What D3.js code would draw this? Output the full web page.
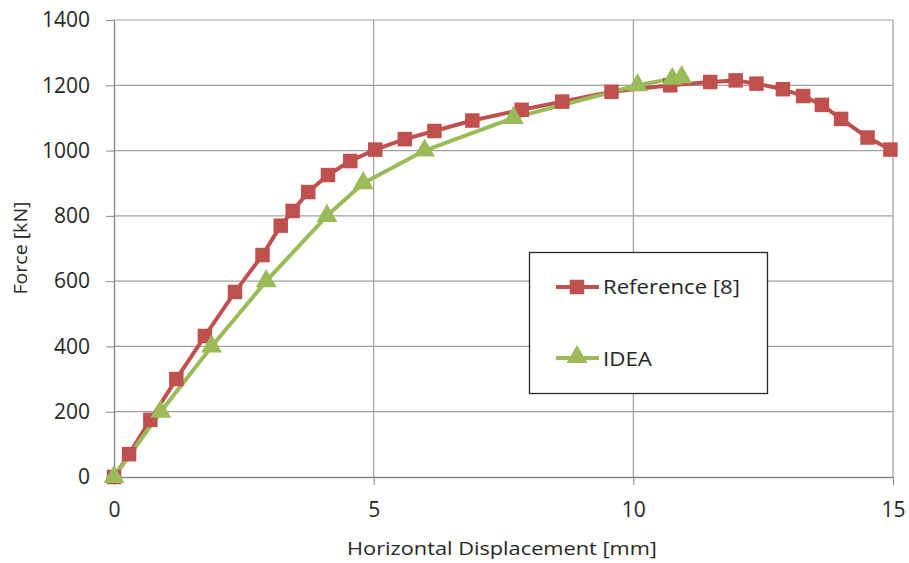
<!DOCTYPE html>
<html>
<head>
<meta charset="utf-8">
<script src="https://cdn.jsdelivr.net/npm/d3@7"></script>
<style>
  body { margin: 0; background: #fff; }
  text { font-family: "Open Sans", "Noto Sans", sans-serif; fill: #262626; }
  .axis text { font-size: 21px; fill: #262626; }
  .axis path, .axis line { stroke: #868686; }
  .grid line { stroke: #a0a0a0; stroke-width: 1.2; }
  .axislabel { font-size: 19px; }
  .legend { font-size: 20px; }
</style>
</head>
<body>
<svg id="chart" width="909" height="563"></svg>
<script>
// Reference [8] curve
const refX = [0, 0.29, 0.70, 1.20, 1.75, 2.33, 2.86, 3.21, 3.44, 3.74, 4.12, 4.55, 5.03,
              5.60, 6.17, 6.90, 7.85, 8.63, 9.58, 10.71, 11.48, 11.97, 12.37, 12.88,
              13.27, 13.63, 14.00, 14.51, 14.95];
const refY = [0, 70, 175, 300, 432, 567, 680, 770, 815, 873, 925, 968, 1003,
              1035, 1060, 1092, 1125, 1150, 1180, 1200, 1210, 1215, 1205, 1188,
              1167, 1140, 1097, 1040, 1003];
// IDEA curve
const ideaX = [0, 0.90, 1.88, 2.93, 4.10, 4.80, 5.98, 7.69, 10.08, 10.75, 10.93];
const ideaY = [0, 200, 400, 600, 800, 900, 1000, 1100, 1200, 1220, 1225];

const xTicks = [0, 5, 10, 15];
const yTicks = [0, 200, 400, 600, 800, 1000, 1200, 1400];

const red = "#c0504d", green = "#9bbb59";

const svg = d3.select("#chart");
const pLeft = 114, pRight = 893, pTop = 20, pBottom = 477;

const xScale = d3.scaleLinear().domain([0, 15]).range([pLeft, pRight]);
const yScale = d3.scaleLinear().domain([0, 1400]).range([pBottom, pTop]);

// gridlines
const grid = svg.append("g").attr("class", "grid");
grid.selectAll(".hg").data(yTicks.slice(1)).join("line").attr("class", "hg")
    .attr("x1", pLeft).attr("x2", pRight)
    .attr("y1", d => yScale(d)).attr("y2", d => yScale(d));
grid.selectAll(".vg").data(xTicks.slice(1)).join("line").attr("class", "vg")
    .attr("y1", pTop).attr("y2", pBottom)
    .attr("x1", d => xScale(d)).attr("x2", d => xScale(d));

// axes
const xAxis = d3.axisBottom(xScale).tickValues(xTicks).tickFormat(d3.format("d"))
    .tickSize(8).tickPadding(17).tickSizeOuter(0);
svg.append("g").attr("class", "axis").attr("transform", `translate(0,${pBottom})`).call(xAxis);
const yAxis = d3.axisLeft(yScale).tickValues(yTicks).tickFormat(d3.format("d"))
    .tickSize(8).tickPadding(16).tickSizeOuter(0);
svg.append("g").attr("class", "axis").attr("transform", `translate(${pLeft},0)`).call(yAxis);
svg.selectAll(".axis path").attr("stroke-width", 1.3);

svg.append("text").attr("class", "axislabel").attr("text-anchor", "middle")
    .attr("x", 502).attr("y", 555)
    .attr("textLength", 310).attr("lengthAdjust", "spacingAndGlyphs")
    .text("Horizontal Displacement [mm]");
svg.append("text").attr("class", "axislabel").attr("text-anchor", "middle")
    .attr("transform", "translate(27,248) rotate(-90)")
    .attr("textLength", 93).attr("lengthAdjust", "spacingAndGlyphs")
    .text("Force [kN]");

// series
const refData = refX.map((x, i) => ({x: x, y: refY[i]}));
const ideaData = ideaX.map((x, i) => ({x: x, y: ideaY[i]}));
const line = d3.line().x(d => xScale(d.x)).y(d => yScale(d.y));

svg.append("path").attr("d", line(refData)).attr("fill", "none")
    .attr("stroke", red).attr("stroke-width", 4).attr("stroke-linejoin", "round");
svg.append("path").attr("d", line(ideaData)).attr("fill", "none")
    .attr("stroke", green).attr("stroke-width", 4).attr("stroke-linejoin", "round");

const square = d3.symbol().type(d3.symbolSquare).size(210);
const triangle = d3.symbol().type(d3.symbolTriangle).size(190);

svg.selectAll(".ref").data(refData).join("path").attr("class", "ref")
    .attr("d", square).attr("fill", red)
    .attr("transform", d => `translate(${xScale(d.x)},${yScale(d.y)})`);
svg.selectAll(".idea").data(ideaData).join("path").attr("class", "idea")
    .attr("d", triangle).attr("fill", green)
    .attr("transform", d => `translate(${xScale(d.x)},${yScale(d.y)})`);

// legend
const lg = svg.append("g");
lg.append("rect").attr("x", 529.5).attr("y", 252.5).attr("width", 238).attr("height", 141)
    .attr("fill", "#fff").attr("stroke", "#262626").attr("stroke-width", 1.3);
lg.append("line").attr("x1", 556).attr("x2", 599).attr("y1", 287).attr("y2", 287)
    .attr("stroke", red).attr("stroke-width", 4);
lg.append("path").attr("d", square).attr("fill", red).attr("transform", "translate(577,287)");
lg.append("text").attr("class", "legend").attr("x", 603).attr("y", 294)
    .attr("textLength", 137).attr("lengthAdjust", "spacingAndGlyphs").text("Reference [8]");
lg.append("line").attr("x1", 556).attr("x2", 599).attr("y1", 358).attr("y2", 358)
    .attr("stroke", green).attr("stroke-width", 4);
lg.append("path").attr("d", triangle).attr("fill", green).attr("transform", "translate(577,357)");
lg.append("text").attr("class", "legend").attr("x", 603).attr("y", 366)
    .attr("textLength", 49).attr("lengthAdjust", "spacingAndGlyphs").text("IDEA");
</script>
</body>
</html>
